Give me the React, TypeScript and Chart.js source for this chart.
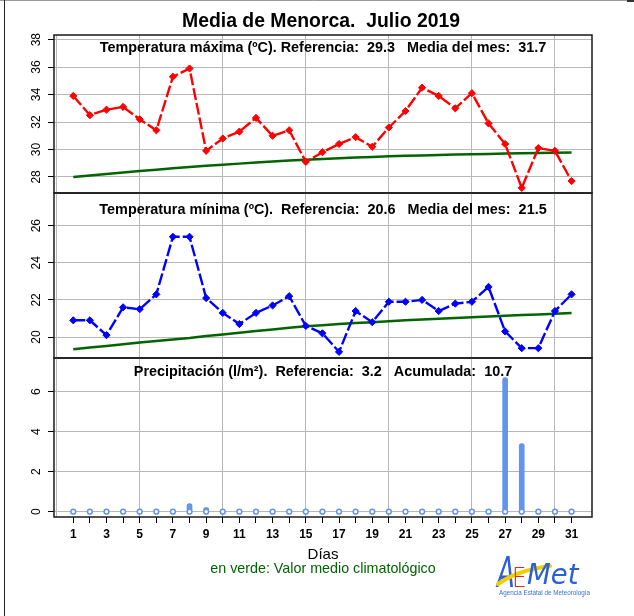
import React, { useEffect, useRef } from 'react';
import { Chart, registerables } from 'chart.js';

Chart.register(...registerables);

// ---------- data ----------
const days = [1, 2, 3, 4, 5, 6, 7, 8, 9, 10, 11, 12, 13, 14, 15, 16, 17, 18, 19, 20, 21, 22, 23, 24, 25, 26, 27, 28, 29, 30, 31];
const xTickDays = [0, 1, 2, 3, 4, 5, 6, 7, 8, 9, 10, 11, 12, 13, 14, 15, 16, 17, 18, 19, 20, 21, 22, 23, 24, 25, 26, 27, 28, 29, 30, 31];

const tmaxValues = [33.9, 32.5, 32.9, 33.1, 32.2, 31.4, 35.3, 35.9, 29.9, 30.8, 31.3, 32.3, 31.0, 31.4, 29.1, 29.8, 30.4, 30.9, 30.2, 31.6, 32.8, 34.5, 33.9, 33.0, 34.1, 31.9, 30.4, 27.2, 30.1, 29.9, 27.7];
const tmaxClimate = [28.00, 28.11, 28.22, 28.33, 28.43, 28.53, 28.63, 28.72, 28.81, 28.89, 28.97, 29.05, 29.12, 29.19, 29.25, 29.31, 29.36, 29.41, 29.46, 29.50, 29.54, 29.57, 29.60, 29.63, 29.66, 29.68, 29.70, 29.72, 29.74, 29.76, 29.78];

const tminValues = [20.9, 20.9, 20.1, 21.6, 21.5, 22.3, 25.4, 25.4, 22.1, 21.3, 20.7, 21.3, 21.7, 22.2, 20.6, 20.2, 19.2, 21.4, 20.8, 21.9, 21.9, 22.0, 21.4, 21.8, 21.9, 22.7, 20.3, 19.4, 19.4, 21.4, 22.3];
const tminClimate = [19.34, 19.43, 19.52, 19.61, 19.70, 19.79, 19.87, 19.95, 20.05, 20.14, 20.23, 20.32, 20.41, 20.50, 20.58, 20.64, 20.70, 20.75, 20.80, 20.85, 20.90, 20.95, 20.99, 21.03, 21.07, 21.11, 21.15, 21.19, 21.22, 21.26, 21.29];

const precipValues = [0, 0, 0, 0, 0, 0, 0, 0.4, 0.2, 0, 0, 0, 0, 0, 0, 0, 0, 0, 0, 0, 0, 0, 0, 0, 0, 0, 6.7, 3.4, 0, 0, 0];

const tmaxTicks = [28, 30, 32, 34, 36, 38];
const tminTicks = [20, 22, 24, 26];
const precipTicks = [0, 2, 4, 6];

const mainTitle = 'Media de Menorca.  Julio 2019';
const tmaxTitle = 'Temperatura máxima (ºC). Referencia:  29.3   Media del mes:  31.7';
const tminTitle = 'Temperatura mínima (ºC).  Referencia:  20.6   Media del mes:  21.5';
const precipTitle = 'Precipitación (l/m²).  Referencia:  3.2   Acumulada:  10.7';
const xAxisTitle = 'Días';
const noteText = 'en verde: Valor medio climatológico';

// ---------- layout / style ----------
const PAGE_W = 634;
const PAGE_H = 616;
const PLOT_LEFT = 54;
const PLOT_RIGHT = 592;
const X_MIN = -0.16;
const X_MAX = 32.23;
const X_AXIS_H = 40;
const FONT = '"Liberation Sans", Arial, Helvetica, sans-serif';
const GRID = '#b8b8b8';
const GREEN = '#006400';
const PRECIP = '#6495ED';

const panelDecor = {
  id: 'panelDecor',
  afterDraw(chart: any, _args: any, opts: any) {
    const { ctx, chartArea } = chart;
    const ys = chart.scales.y;
    ctx.save();
    ctx.setLineDash([]);
    ctx.strokeStyle = '#1a1a1a';
    ctx.lineWidth = 1.5;
    ctx.strokeRect(chartArea.left, chartArea.top, chartArea.right - chartArea.left, chartArea.bottom - chartArea.top);
    ctx.fillStyle = '#000';
    ctx.font = `12px ${FONT}`;
    ctx.textAlign = 'center';
    ctx.textBaseline = 'middle';
    ys.ticks.forEach((t: any) => {
      const py = ys.getPixelForValue(t.value);
      ctx.save();
      ctx.translate(37, py);
      ctx.rotate(-Math.PI / 2);
      ctx.fillText(String(t.value), 0, 0);
      ctx.restore();
    });
    ctx.font = `bold 14.4px ${FONT}`;
    ctx.textBaseline = 'alphabetic';
    ctx.fillText(opts.title, (chartArea.left + chartArea.right) / 2, opts.titleBaseline);

    if (opts.page) {
      ctx.font = `bold 19.4px ${FONT}`;
      ctx.fillStyle = '#000';
      ctx.fillText(mainTitle, 321, 26.7);
      ctx.font = `15px ${FONT}`;
      ctx.fillText(xAxisTitle, 323, 559);
      ctx.font = `14.3px ${FONT}`;
      ctx.fillStyle = GREEN;
      ctx.fillText(noteText, 323, 572.5);
      ctx.strokeStyle = '#9a9a9a';
      ctx.lineWidth = 1;
      ctx.beginPath();
      ctx.moveTo(0, 0.5);
      ctx.lineTo(627, 0.5);
      ctx.stroke();
      ctx.strokeStyle = '#222';
      ctx.beginPath();
      ctx.moveTo(4.5, 0);
      ctx.lineTo(4.5, PAGE_H);
      ctx.stroke();
      ctx.fillStyle = '#333';
      ctx.fillRect(627, 0, 7, 2);
    }
    ctx.restore();
  },
};

type Panel = {
  top: number;
  bottom: number;
  yMin: number;
  yMax: number;
  yTicks: number[];
  title: string;
  titleBaseline: number;
  showX: boolean;
  page?: boolean;
};

function buildConfig(p: Panel, type: string, datasets: any[]) {
  const transparent = 'rgba(0,0,0,0)';
  return {
    type,
    data: { datasets },
    options: {
      responsive: false,
      animation: false,
      devicePixelRatio: 1,
      events: [],
      layout: {
        padding: {
          left: 0,
          right: PAGE_W - PLOT_RIGHT,
          top: p.top,
          bottom: PAGE_H - p.bottom - (p.showX ? X_AXIS_H : 0),
        },
      },
      plugins: {
        legend: { display: false },
        tooltip: { enabled: false },
        title: { display: false },
        panelDecor: { title: p.title, titleBaseline: p.titleBaseline, page: !!p.page },
      },
      scales: {
        x: {
          type: 'linear',
          min: X_MIN,
          max: X_MAX,
          offset: false,
          afterBuildTicks: (s: any) => {
            s.ticks = xTickDays.map((v) => ({ value: v }));
          },
          afterFit: (s: any) => {
            s.height = p.showX ? X_AXIS_H : 0;
          },
          grid: {
            offset: false,
            color: (c: any) => (c.tick && c.tick.value % 5 === 0 ? GRID : transparent),
            lineWidth: 1,
            borderDash: [1, 2],
            drawTicks: p.showX,
            tickLength: 6,
            tickColor: (c: any) => (c.tick && c.tick.value >= 1 ? '#000' : transparent),
            tickBorderDash: [],
            tickWidth: 1,
          },
          border: { display: false },
          ticks: {
            display: p.showX,
            autoSkip: false,
            maxRotation: 0,
            minRotation: 0,
            padding: 4,
            color: '#000',
            font: { family: FONT, size: 12, weight: 'bold' },
            callback: (v: any) => (Number(v) % 2 === 1 ? String(v) : ''),
          },
        },
        y: {
          type: 'linear',
          min: p.yMin,
          max: p.yMax,
          afterBuildTicks: (s: any) => {
            s.ticks = p.yTicks.map((v) => ({ value: v }));
          },
          afterFit: (s: any) => {
            s.width = PLOT_LEFT;
          },
          grid: {
            color: GRID,
            lineWidth: 1,
            borderDash: [1, 2],
            drawTicks: true,
            tickLength: 6,
            tickColor: '#000',
            tickBorderDash: [],
            tickWidth: 1,
          },
          border: { display: false },
          ticks: { display: false },
        },
      },
    },
    plugins: [panelDecor],
  };
}

function tempDatasets(values: number[], climate: number[], color: string) {
  return [
    {
      type: 'line',
      data: days.map((d, i) => ({ x: d, y: values[i] })),
      borderColor: color,
      borderWidth: 2.4,
      borderDash: [12, 3],
      pointStyle: 'rectRot',
      pointRadius: 3.6,
      pointBackgroundColor: color,
      pointBorderColor: color,
      pointBorderWidth: 1,
      tension: 0,
      order: 0,
    },
    {
      type: 'line',
      data: days.map((d, i) => ({ x: d, y: climate[i] })),
      borderColor: GREEN,
      borderWidth: 2.5,
      pointRadius: 0,
      tension: 0,
      order: 1,
    },
  ];
}

export default function App() {
  const c1 = useRef<HTMLCanvasElement>(null);
  const c2 = useRef<HTMLCanvasElement>(null);
  const c3 = useRef<HTMLCanvasElement>(null);

  useEffect(() => {
    const charts: Chart[] = [];
    const p1: Panel = { top: 35, bottom: 193, yMin: 26.83, yMax: 38.34, yTicks: tmaxTicks, title: tmaxTitle, titleBaseline: 52, showX: false };
    const p2: Panel = { top: 193, bottom: 358, yMin: 18.87, yMax: 27.76, yTicks: tminTicks, title: tminTitle, titleBaseline: 213.5, showX: false };
    const p3: Panel = { top: 358, bottom: 517, yMin: -0.265, yMax: 7.685, yTicks: precipTicks, title: precipTitle, titleBaseline: 375.5, showX: true, page: true };

    charts.push(new Chart(c1.current as HTMLCanvasElement, buildConfig(p1, 'line', tempDatasets(tmaxValues, tmaxClimate, '#ff0000')) as any));
    charts.push(new Chart(c2.current as HTMLCanvasElement, buildConfig(p2, 'line', tempDatasets(tminValues, tminClimate, '#0000ff')) as any));
    charts.push(
      new Chart(
        c3.current as HTMLCanvasElement,
        buildConfig(p3, 'bar', [
          {
            type: 'bar',
            data: days.map((d, i) => ({ x: d, y: precipValues[i] })),
            backgroundColor: PRECIP,
            borderWidth: 0,
            barThickness: 5,
            borderRadius: 2.5,
            borderSkipped: false,
            order: 1,
          },
          {
            type: 'line',
            data: days.map((d) => ({ x: d, y: 0 })),
            showLine: false,
            pointStyle: 'circle',
            pointRadius: 2.4,
            pointBorderWidth: 1.5,
            pointBorderColor: PRECIP,
            pointBackgroundColor: '#ffffff',
            order: 0,
          },
        ]) as any
      )
    );
    return () => charts.forEach((c) => c.destroy());
  }, []);

  const canvasStyle: React.CSSProperties = { position: 'absolute', left: 0, top: 0 };

  return (
    <div style={{ position: 'fixed', left: 0, top: 0, width: PAGE_W, height: PAGE_H, background: '#fff', overflow: 'hidden' }}>
      <canvas ref={c1} width={PAGE_W} height={PAGE_H} style={canvasStyle} />
      <canvas ref={c2} width={PAGE_W} height={PAGE_H} style={canvasStyle} />
      <canvas ref={c3} width={PAGE_W} height={PAGE_H} style={canvasStyle} />
      <svg width={112} height={62} style={{ position: 'absolute', left: 492, top: 544 }}>
        <text x={0} y={0} fontSize={42} fontStyle="italic" fontWeight={200} fontFamily="DejaVu Sans, sans-serif" fill="#2b5fd6" transform="translate(5,43) scale(0.62,1)">A</text>
        <path d="M 6 40 Q 26 26 58 22" stroke="#f2cd00" strokeWidth={4} fill="none" strokeLinecap="round" />
        <text x={0} y={0} fontSize={27} fontWeight={300} fontFamily="DejaVu Sans, sans-serif" fill="#e3261b" transform="translate(20,43) scale(0.85,1)">E</text>
        <text x={0} y={0} fontSize={29} fontStyle="italic" fontWeight={300} fontFamily="DejaVu Sans, sans-serif" fill="#2b5fd6" transform="translate(35,40) scale(0.95,1)">Met</text>
        <text x={7} y={51} fontSize={6.3} fontFamily="Liberation Sans, Arial, sans-serif" fill="#3a6fd6">Agencia Estatal de Meteorología</text>
      </svg>
    </div>
  );
}
